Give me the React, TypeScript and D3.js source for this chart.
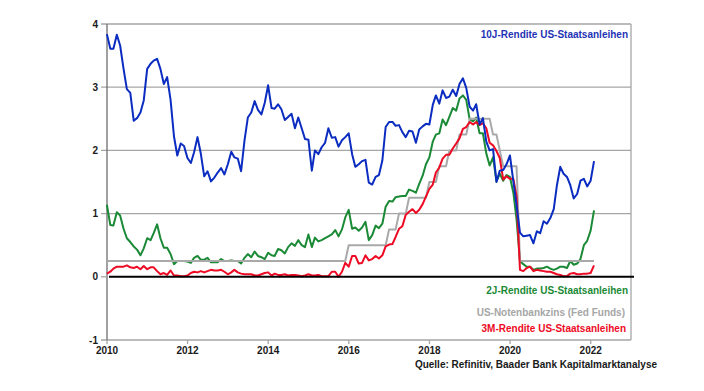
import React from "react";
import * as d3 from "d3";

const MARGIN = { top: 24, right: 73, bottom: 51, left: 107 };
const WIDTH = 704;
const HEIGHT = 391;

// month-end values, first entry = end of Dec 2009, last = end of Jan 2022
const tenYear = [
  3.84,
  3.61, 3.61, 3.83, 3.66, 3.29, 2.97, 2.91, 2.47, 2.51, 2.60, 2.79, 3.29,
  3.37, 3.42, 3.45, 3.29, 3.05, 3.16, 2.80, 2.22, 1.92, 2.11, 2.07, 1.88,
  1.80, 1.97, 2.21, 1.95, 1.59, 1.67, 1.51, 1.57, 1.65, 1.72, 1.62, 1.78,
  1.98, 1.89, 1.87, 1.67, 2.16, 2.52, 2.60, 2.78, 2.64, 2.57, 2.75, 3.03,
  2.67, 2.66, 2.73, 2.65, 2.48, 2.53, 2.58, 2.35, 2.52, 2.35, 2.18, 2.17,
  1.68, 2.00, 1.94, 2.05, 2.12, 2.35, 2.20, 2.21, 2.06, 2.16, 2.21, 2.27,
  1.94, 1.74, 1.78, 1.83, 1.85, 1.49, 1.46, 1.58, 1.61, 1.84, 2.37, 2.45,
  2.45, 2.39, 2.40, 2.29, 2.21, 2.31, 2.30, 2.12, 2.33, 2.38, 2.42, 2.41,
  2.72, 2.87, 2.74, 2.95, 2.83, 2.85, 2.96, 2.86, 3.05, 3.14, 2.99, 2.69,
  2.63, 2.73, 2.41, 2.51, 2.14, 2.00, 2.02, 1.50, 1.68, 1.69, 1.78, 1.92,
  1.51, 1.13, 0.70, 0.64, 0.65, 0.66, 0.53, 0.72, 0.69, 0.88, 0.84, 0.93,
  1.07, 1.44, 1.74, 1.63, 1.58, 1.45, 1.24, 1.31, 1.52, 1.55, 1.43, 1.52,
  1.83,
];

const twoYear = [
  1.14,
  0.82, 0.81, 1.02, 0.97, 0.76, 0.61, 0.55, 0.48, 0.43, 0.34, 0.45, 0.61,
  0.58, 0.69, 0.83, 0.61, 0.46, 0.46, 0.36, 0.20, 0.25, 0.25, 0.25, 0.24,
  0.22, 0.30, 0.33, 0.27, 0.27, 0.30, 0.23, 0.23, 0.23, 0.28, 0.25, 0.25,
  0.26, 0.25, 0.25, 0.21, 0.30, 0.36, 0.31, 0.40, 0.33, 0.31, 0.28, 0.38,
  0.34, 0.33, 0.44, 0.42, 0.37, 0.47, 0.53, 0.49, 0.58, 0.50, 0.47, 0.67,
  0.47, 0.62, 0.56, 0.58, 0.61, 0.64, 0.67, 0.74, 0.64, 0.75, 0.94, 1.06,
  0.76, 0.78, 0.73, 0.78, 0.87, 0.58, 0.66, 0.81, 0.77, 0.84, 1.11, 1.20,
  1.19, 1.26, 1.27, 1.28, 1.28, 1.38, 1.36, 1.33, 1.47, 1.60, 1.78, 1.89,
  2.14, 2.25, 2.27, 2.49, 2.40, 2.53, 2.67, 2.63, 2.82, 2.87, 2.80, 2.49,
  2.46, 2.52, 2.27, 2.27, 1.95, 1.76, 1.89, 1.51, 1.63, 1.52, 1.61, 1.58,
  1.33, 0.91, 0.25, 0.20, 0.16, 0.16, 0.11, 0.13, 0.13, 0.14, 0.16, 0.13,
  0.11, 0.13, 0.16, 0.16, 0.14, 0.25, 0.19, 0.21, 0.28, 0.50, 0.57, 0.73,
  1.05,
];

const fedFunds = [
  0.25,
  0.25, 0.25, 0.25, 0.25, 0.25, 0.25, 0.25, 0.25, 0.25, 0.25, 0.25, 0.25,
  0.25, 0.25, 0.25, 0.25, 0.25, 0.25, 0.25, 0.25, 0.25, 0.25, 0.25, 0.25,
  0.25, 0.25, 0.25, 0.25, 0.25, 0.25, 0.25, 0.25, 0.25, 0.25, 0.25, 0.25,
  0.25, 0.25, 0.25, 0.25, 0.25, 0.25, 0.25, 0.25, 0.25, 0.25, 0.25, 0.25,
  0.25, 0.25, 0.25, 0.25, 0.25, 0.25, 0.25, 0.25, 0.25, 0.25, 0.25, 0.25,
  0.25, 0.25, 0.25, 0.25, 0.25, 0.25, 0.25, 0.25, 0.25, 0.25, 0.25, 0.50,
  0.50, 0.50, 0.50, 0.50, 0.50, 0.50, 0.50, 0.50, 0.50, 0.50, 0.50, 0.75,
  0.75, 0.75, 1.00, 1.00, 1.00, 1.25, 1.25, 1.25, 1.25, 1.25, 1.25, 1.50,
  1.50, 1.50, 1.75, 1.75, 1.75, 2.00, 2.00, 2.00, 2.25, 2.25, 2.25, 2.50,
  2.50, 2.50, 2.50, 2.50, 2.50, 2.50, 2.25, 2.25, 2.00, 1.75, 1.75, 1.75,
  1.75, 1.75, 0.25, 0.25, 0.25, 0.25, 0.25, 0.25, 0.25, 0.25, 0.25, 0.25,
  0.25, 0.25, 0.25, 0.25, 0.25, 0.25, 0.25, 0.25, 0.25, 0.25, 0.25, 0.25,
  0.25,
];

const threeMonth = [
  0.05,
  0.08, 0.13, 0.16, 0.16, 0.16, 0.18, 0.15, 0.14, 0.16, 0.12, 0.17, 0.12,
  0.15, 0.15, 0.09, 0.04, 0.06, 0.03, 0.10, 0.02, 0.02, 0.01, 0.01, 0.02,
  0.06, 0.08, 0.07, 0.09, 0.07, 0.09, 0.11, 0.10, 0.10, 0.11, 0.08, 0.04,
  0.07, 0.11, 0.07, 0.05, 0.04, 0.04, 0.04, 0.02, 0.02, 0.04, 0.06, 0.07,
  0.02, 0.05, 0.03, 0.03, 0.04, 0.02, 0.03, 0.03, 0.02, 0.01, 0.02, 0.04,
  0.02, 0.02, 0.03, 0.01, 0.01, 0.01, 0.08, 0.08, 0.00, 0.08, 0.22, 0.16,
  0.33, 0.33, 0.21, 0.22, 0.34, 0.26, 0.28, 0.33, 0.29, 0.34, 0.48, 0.51,
  0.52, 0.63, 0.76, 0.80, 0.98, 1.03, 1.07, 1.01, 1.06, 1.15, 1.27, 1.39,
  1.46, 1.65, 1.73, 1.87, 1.93, 1.93, 2.03, 2.11, 2.19, 2.34, 2.37, 2.45,
  2.41, 2.45, 2.40, 2.43, 2.35, 2.12, 2.08, 1.99, 1.88, 1.54, 1.59, 1.55,
  1.55, 1.27, 0.11, 0.09, 0.14, 0.16, 0.09, 0.11, 0.10, 0.09, 0.08, 0.08,
  0.06, 0.04, 0.03, 0.01, 0.01, 0.05, 0.06, 0.04, 0.04, 0.05, 0.05, 0.06,
  0.18,
];

const yTicks = [-1, 0, 1, 2, 3, 4];
const xTickYears = [2010, 2012, 2014, 2016, 2018, 2020, 2022];

const FONT = "'Liberation Sans', Arial, sans-serif";

// month end dates: new Date(2010, 0, 0) = 31 Dec 2009
const monthEnd = (i: number) => new Date(2010, i, 0);

export default function App() {
  const boundsWidth = WIDTH - MARGIN.left - MARGIN.right;
  const boundsHeight = HEIGHT - MARGIN.top - MARGIN.bottom;

  const xScale = d3
    .scaleTime()
    .domain([new Date(2010, 0, 1), new Date(2023, 0, 1)])
    .range([0, boundsWidth]);

  const yScale = d3.scaleLinear().domain([-1, 4]).range([boundsHeight, 0]);

  const line = d3
    .line<number>()
    .x((_, i) => xScale(monthEnd(i)))
    .y((d) => yScale(d));

  const series = [
    { values: twoYear, color: "#1b8a36" },
    { values: fedFunds, color: "#a9a9a9" },
    { values: threeMonth, color: "#ee0a24" },
    { values: tenYear, color: "#0b2cc0" },
  ];

  return (
    <svg
      width={WIDTH}
      height={HEIGHT}
      style={{ position: "absolute", left: 0, top: 0, background: "#fff" }}
      fontFamily={FONT}
      fontWeight="bold"
      fontSize={10}
    >
      <g transform={`translate(${MARGIN.left},${MARGIN.top})`}>
        {/* gridlines */}
        {yTicks
          .filter((t) => t !== 0 && t !== -1)
          .map((t) => (
            <line
              key={t}
              x1={-6}
              x2={boundsWidth}
              y1={yScale(t)}
              y2={yScale(t)}
              stroke="#a6a6a6"
              strokeWidth={1.3}
            />
          ))}
        {/* bottom axis line */}
        <line x1={-6} x2={boundsWidth} y1={boundsHeight} y2={boundsHeight} stroke="#a6a6a6" strokeWidth={1.3} />
        {xTickYears.map((yr) => (
          <line
            key={yr}
            x1={xScale(new Date(yr, 0, 1))}
            x2={xScale(new Date(yr, 0, 1))}
            y1={boundsHeight}
            y2={boundsHeight + 4}
            stroke="#a6a6a6"
            strokeWidth={1.3}
          />
        ))}
        {/* right border */}
        <line x1={boundsWidth} x2={boundsWidth} y1={0} y2={boundsHeight} stroke="#a6a6a6" strokeWidth={1.3} />
        {/* left axis */}
        <line x1={0} x2={0} y1={0} y2={boundsHeight} stroke="#6e6e6e" strokeWidth={1.3} />
        <line x1={-6} x2={0} y1={yScale(0)} y2={yScale(0)} stroke="#a6a6a6" strokeWidth={1.3} />

        {series.map((s, i) => (
          <path
            key={i}
            d={line(s.values) || ""}
            fill="none"
            stroke={s.color}
            strokeWidth={2}
            strokeLinejoin="round"
          />
        ))}

        {/* zero line */}
        <line x1={2} x2={boundsWidth + 3} y1={yScale(0)} y2={yScale(0)} stroke="#000" strokeWidth={2} />

        {yTicks.map((t) => (
          <text key={t} x={-9} y={yScale(t)} dy="0.35em" textAnchor="end" fill="#1a1a1a">
            {t}
          </text>
        ))}
        {xTickYears.map((yr) => (
          <text
            key={yr}
            x={xScale(new Date(yr, 0, 1))}
            y={boundsHeight + 14}
            textAnchor="middle"
            fill="#1a1a1a"
          >
            {yr}
          </text>
        ))}
      </g>

      <text x={628} y={38} textAnchor="end" fill="#1f33b5">10J-Rendite US-Staatsanleihen</text>
      <text x={628} y={294} textAnchor="end" fill="#1b8a36">2J-Rendite US-Staatsanleihen</text>
      <text x={625} y={316} textAnchor="end" fill="#a6a6a6">US-Notenbankzins (Fed Funds)</text>
      <text x={626} y={332} textAnchor="end" fill="#ee0a24">3M-Rendite US-Staatsanleihen</text>
      <text x={657} y={368} textAnchor="end" fill="#1a1a1a">Quelle: Refinitiv, Baader Bank Kapitalmarktanalyse</text>
    </svg>
  );
}
